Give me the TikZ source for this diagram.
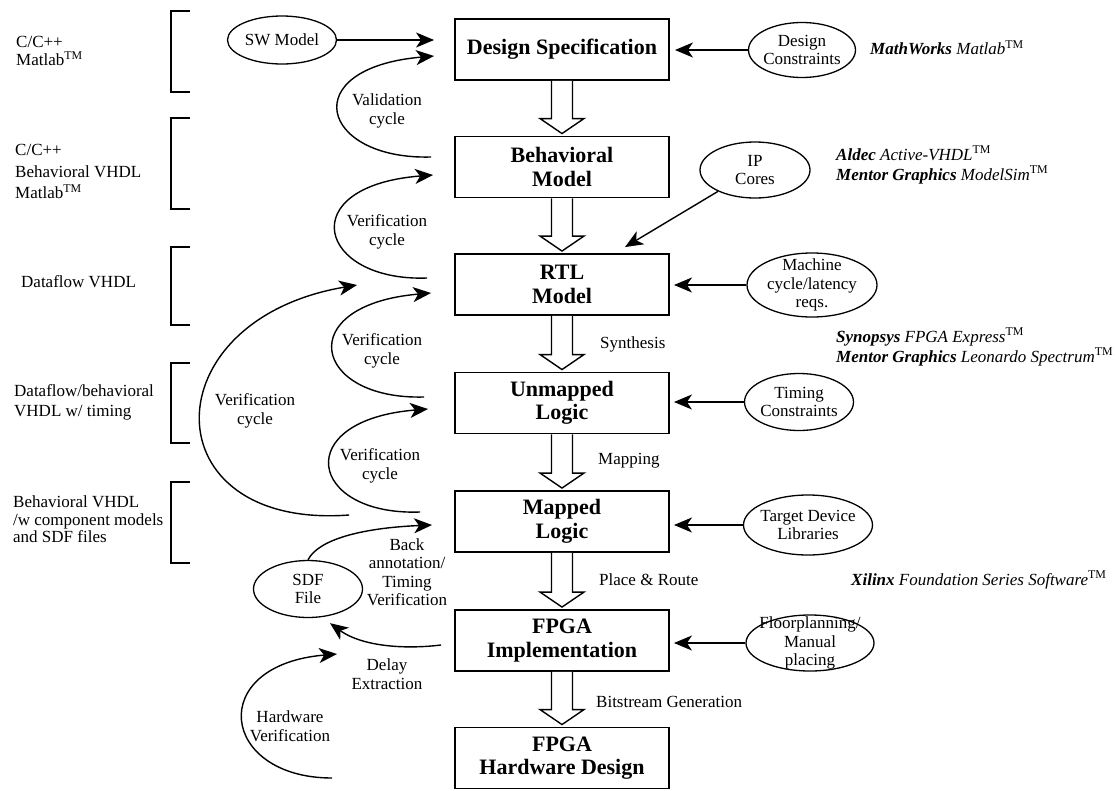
\documentclass[tikz,border=0pt]{standalone}
\usepackage{fontspec}
\setmainfont{Liberation Serif}
\usetikzlibrary{arrows.meta,shapes.geometric,calc}

\tikzset{
  stage/.style={draw, line width=1.9pt, rectangle, minimum width=214pt, minimum height=61pt,
    align=center, inner sep=0pt, font=\fontsize{22}{23.5}\selectfont\bfseries},
  ell/.style={draw, ellipse, line width=1.3pt, inner sep=0pt},
  lbl/.style={align=center, inner sep=0pt, font=\fontsize{17}{18.5}\selectfont},
  side/.style={align=left, anchor=west, inner sep=0pt},
  conn/.style={line width=1.4pt, -{Stealth[length=18pt,width=15pt,inset=5pt]}},
  bracket/.style={line width=1.8pt},
  flow/.style={draw, line width=1.4pt, fill=white, line join=miter},
}

% hollow block arrow from the bottom of one stage to the top of the next
\newcommand\flowarrow[2]{%
  \draw[flow] ($(#1.south)+(-10.5,0)$) -- ($(#2.north)+(-10.5,-17)$)
    -- ($(#2.north)+(-22,-17)$) -- ($(#2.north)+(0,-2)$)
    -- ($(#2.north)+(22,-17)$) -- ($(#2.north)+(10.5,-17)$)
    -- ($(#1.south)+(10.5,0)$);}

\newcommand\tm{\textsuperscript{\textup{TM}}}

\begin{document}
\begin{tikzpicture}[x=1pt,y=-1pt]
\useasboundingbox (0,0) rectangle (1119,790);

% design flow stages
\node[stage] (ds)  at (562,49.5)  {Design Specification};
\node[stage] (bm)  at (562,167)   {Behavioral\\Model};
\node[stage] (rtl) at (562,284.5) {RTL\\Model};
\node[stage] (ul)  at (562,403)   {Unmapped\\Logic};
\node[stage] (ml)  at (562,521.5) {Mapped\\Logic};
\node[stage] (fi)  at (562,640.5) {FPGA\\Implementation};
\node[stage] (hw)  at (562,758)   {FPGA\\Hardware Design};

\flowarrow{ds}{bm}
\flowarrow{bm}{rtl}
\flowarrow{rtl}{ul}
\flowarrow{ul}{ml}
\flowarrow{ml}{fi}
\flowarrow{fi}{hw}

\node[lbl, anchor=west] (lsyn) at (600,344) {Synthesis};
\node[lbl, anchor=west] (lmap) at (598,461) {Mapping};
\node[lbl, anchor=west] (lpr)  at (599,580) {Place \& Route};
\node[lbl, anchor=west] (lbit) at (596,702) {Bitstream Generation};

% inputs
\node[ell, minimum width=109pt, minimum height=48pt, label={[lbl]center:SW Model}] (sw) at (282,40) {};
\node[ell, minimum width=107pt, minimum height=55pt, label={[lbl]center:{Design\\Constraints}}] (dc) at (802,50) {};
\node[ell, minimum width=110pt, minimum height=56pt, label={[lbl]center:{IP\\Cores}}] (ip) at (755,170) {};
\node[ell, minimum width=130pt, minimum height=64pt, label={[lbl]center:{Machine\\cycle/latency\\reqs.}}] (mc) at (812,285) {};
\node[ell, minimum width=109pt, minimum height=57pt, label={[lbl]center:{Timing\\Constraints}}] (tc) at (799,402) {};
\node[ell, minimum width=129pt, minimum height=60pt, label={[lbl]center:{Target Device\\Libraries}}] (td) at (808,525) {};
\node[ell, minimum width=128pt, minimum height=56pt, label={[lbl]center:{Floorplanning/\\Manual\\placing}}] (fp) at (810,643) {};
\node[ell, minimum width=109pt, minimum height=57pt, label={[lbl]center:{SDF\\File}}] (sdf) at (308,589) {};

\draw[conn] (sw.east) -- ($(sw.east -| ds.west)+(-20,0)$);
\draw[conn] (dc.west) -- ($(dc.west -| ds.east)+(5,0)$);
\draw[conn] (ip.210) -- ($(rtl.north)+(63,-6)$);
\draw[conn] (mc.west) -- ($(mc.west -| rtl.east)+(4,0)$);
\draw[conn] (tc.west) -- ($(tc.west -| ul.east)+(4,0)$);
\draw[conn] (td.west) -- ($(td.west -| ml.east)+(4,0)$);
\draw[conn] (fp.west) -- ($(fp.west -| fi.east)+(4,0)$);

% feedback cycles
\draw[conn] ($(bm.west)+(-23,-10)$) .. controls (320,160) and (295,68) .. ($(ds.west)+(-20,6.5)$);
\draw[conn] ($(rtl.west)+(-27,-6.5)$) .. controls (318,282) and (292,186) .. ($(bm.west)+(-21,8)$);
\draw[conn] ($(ul.west)+(-30,-6)$) .. controls (312,400) and (292,305) .. ($(rtl.west)+(-23,8.5)$);
\draw[conn] ($(ml.west)+(-34,-9.5)$) .. controls (308,516) and (290,420) .. ($(ul.west)+(-26,6)$);
\draw[conn] ($(ml.west)+(-105,-6.5)$) .. controls (150,530) and (150,320) .. ($(rtl.west)+(-97,0.5)$);
\draw[conn] (sdf.north) .. controls (318,540) and (360,528) .. ($(ml.west)+(-22,3.5)$);
\draw[conn] ($(fi.west)+(-13,4.5)$) .. controls (400,650) and (360,645) .. ($(sdf.south)+(22,5)$);
\draw[conn] ($(hw.west)+(-122,20)$) .. controls (220,778) and (205,665) .. ($(fi.west)+(-117,13.5)$);

\node[lbl] (lval) at (387,111) {Validation\\cycle};
\node[lbl] (lv1)  at (387,232) {Verification\\cycle};
\node[lbl] (lv2)  at (382,351) {Verification\\cycle};
\node[lbl] (lv3)  at (380,466) {Verification\\cycle};
\node[lbl] (lvb)  at (255,411) {Verification\\cycle};
\node[lbl] (lba)  at (407,572) {Back\\annotation/\\Timing\\Verification};
\node[lbl] (lde)  at (387,674) {Delay\\Extraction};
\node[lbl] (lhv)  at (290,726) {Hardware\\Verification};

% description languages per level
\draw[bracket] (190,11) -- (171,11) -- (171,92) -- (190,92);
\draw[bracket] (190,118) -- (171,118) -- (171,209) -- (190,209);
\draw[bracket] (190,247) -- (171,247) -- (171,325) -- (190,325);
\draw[bracket] (190,363) -- (171,363) -- (171,443) -- (190,443);
\draw[bracket] (190,482) -- (171,482) -- (171,563) -- (190,563);

\node[side, font=\fontsize{17}{18}\selectfont] (l1) at (16,51) {C/C++\\Matlab\tm};
\node[side, font=\fontsize{17}{21.5}\selectfont] (l2) at (15,171.5) {C/C++\\Behavioral VHDL\\Matlab\tm};
\node[side, font=\fontsize{17}{20}\selectfont] (l3) at (21,282) {Dataflow VHDL};
\node[side, font=\fontsize{17}{20}\selectfont] (l4) at (14,402) {Dataflow/behavioral\\VHDL w/ timing};
\node[side, font=\fontsize{17}{17.5}\selectfont] (l5) at (13,519.5) {Behavioral VHDL\\/w component models\\and SDF files};

% tools
\node[side, font=\fontsize{17}{20}\selectfont] (t1) at (870,48) {\textbf{\textit{MathWorks}} \textit{Matlab}\tm};
\node[side, font=\fontsize{17}{20}\selectfont] (t2) at (836,165) {\textbf{\textit{Aldec}} \textit{Active-VHDL}\tm\\\textbf{\textit{Mentor Graphics}} \textit{ModelSim}\tm};
\node[side, font=\fontsize{17}{20}\selectfont] (t3) at (836,347) {\textbf{\textit{Synopsys}} \textit{FPGA Express}\tm\\\textbf{\textit{Mentor Graphics}} \textit{Leonardo Spectrum}\tm};
\node[side, font=\fontsize{17}{20}\selectfont] (t4) at (851,580) {\textbf{\textit{Xilinx}} \textit{Foundation Series Software}\tm};
\end{tikzpicture}
\end{document}
